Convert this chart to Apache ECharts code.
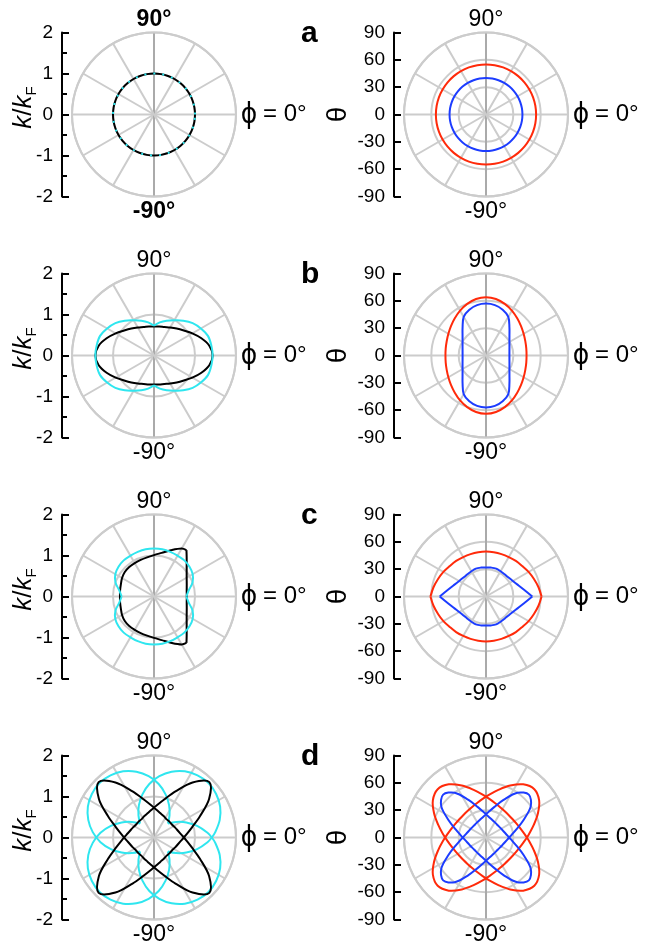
<!DOCTYPE html>
<html>
<head>
<meta charset="utf-8">
<script src="https://cdn.jsdelivr.net/npm/echarts@6/dist/echarts.min.js"></script>
<style>
  html, body { margin: 0; padding: 0; background: #fff; }
  #chart { width: 645px; height: 949px; }
</style>
</head>
<body>
<div id="chart"></div>
<script>
// angle grids (degrees, counter-clockwise from phi = 0)
const PHI = [0,10,20,30,40,50,60,70,80,90,100,110,120,130,140,150,160,170,180,190,200,210,220,230,240,250,260,270,280,290,300,310,320,330,340,350,360];
const PHI_C = [0,10,20,30,40,50,55,60,70,80,90,100,110,120,130,140,150,160,170,180,190,200,210,220,230,240,250,260,270,280,290,300,305,310,320,330,340,350,360];
const PHI_D = [0,5,15,25,35,45,55,65,75,85,95,105,115,125,135,145,155,165,175,185,195,205,215,225,235,245,255,265,275,285,295,305,315,325,335,345,355,360];

// row a : k/kF (left) and theta in degrees (right)
const A_BLACK = [1,1,1,1,1,1,1,1,1,1,1,1,1,1,1,1,1,1,1,1,1,1,1,1,1,1,1,1,1,1,1,1,1,1,1,1,1];
const A_CYAN  = [1,1,1,1,1,1,1,1,1,1,1,1,1,1,1,1,1,1,1,1,1,1,1,1,1,1,1,1,1,1,1,1,1,1,1,1,1];
const A_RED   = [55,55,55,55,55,55,55,55,55,55,55,55,55,55,55,55,55,55,55,55,55,55,55,55,55,55,55,55,55,55,55,55,55,55,55,55,55];
const A_BLUE  = [40,40,40,40,40,40,40,40,40,40,40,40,40,40,40,40,40,40,40,40,40,40,40,40,40,40,40,40,40,40,40,40,40,40,40,40,40];

// row b
const B_BLACK = [1.43,1.37,1.23,1.08,0.95,0.86,0.79,0.74,0.72,0.71,0.72,0.74,0.79,0.86,0.95,1.08,1.23,1.37,1.43,1.37,1.23,1.08,0.95,0.86,0.79,0.74,0.72,0.71,0.72,0.74,0.79,0.86,0.95,1.08,1.23,1.37,1.43];
const B_CYAN  = [1.43,1.42,1.40,1.32,1.23,1.11,0.99,0.90,0.82,0.73,0.82,0.90,0.99,1.11,1.23,1.32,1.40,1.42,1.43,1.42,1.40,1.32,1.23,1.11,0.99,0.90,0.82,0.73,0.82,0.90,0.99,1.11,1.23,1.32,1.40,1.42,1.43];
const B_RED   = [44.5,44.9,45.9,47.7,50.2,53.3,56.9,60.3,63.0,64.0,63.0,60.3,56.9,53.3,50.2,47.7,45.9,44.9,44.5,44.9,45.9,47.7,50.2,53.3,56.9,60.3,63.0,64.0,63.0,60.3,56.9,53.3,50.2,47.7,45.9,44.9,44.5];
const B_BLUE  = [25.7,26.1,27.4,29.7,33.6,40.0,49.0,53.5,56.2,57.0,56.2,53.5,49.0,40.0,33.6,29.7,27.4,26.1,25.7,26.1,27.4,29.7,33.6,40.0,49.0,53.5,56.2,57.0,56.2,53.5,49.0,40.0,33.6,29.7,27.4,26.1,25.7];

// row c
const C_BLACK = [0.80,0.81,0.85,0.92,1.04,1.24,1.38,1.35,1.20,1.08,1.01,0.97,0.95,0.94,0.94,0.93,0.90,0.86,0.84,0.83,0.84,0.86,0.90,0.93,0.94,0.94,0.95,0.97,1.01,1.08,1.20,1.35,1.38,1.24,1.04,0.92,0.85,0.81,0.80];
const C_CYAN  = [0.79,0.86,1.00,1.09,1.13,1.15,1.15,1.16,1.17,1.17,1.17,1.16,1.15,1.15,1.13,1.09,1.00,0.86,0.79,0.86,1.00,1.09,1.13,1.15,1.15,1.16,1.17,1.17,1.17,1.16,1.15,1.15,1.13,1.09,1.00,0.86,0.79];
const C_RED   = [61.0,58.5,56.0,54.0,52.0,51.0,50.0,49.5,49.3,49.3,49.3,49.5,50.0,51.0,52.0,54.0,56.0,58.5,61.0,58.5,56.0,54.0,52.0,51.0,50.0,49.5,49.3,49.3,49.3,49.5,50.0,51.0,52.0,54.0,56.0,58.5,61.0];
const C_BLUE  = [50.8,42.4,37.2,34.0,32.3,31.8,32.0,32.6,32.2,31.9,32.2,32.6,32.0,31.8,32.3,34.0,37.2,42.4,50.8,42.4,37.2,34.0,32.3,31.8,32.0,32.6,32.2,31.9,32.2,32.6,32.0,31.8,32.3,34.0,37.2,42.4,50.8];

// row d (two branches per colour)
const D_BLACK1 = [0.73,0.79,0.96,1.24,1.64,1.91,1.64,1.24,0.96,0.79,0.68,0.61,0.57,0.54,0.54,0.54,0.57,0.61,0.68,0.79,0.96,1.24,1.64,1.91,1.64,1.24,0.96,0.79,0.68,0.61,0.57,0.54,0.54,0.54,0.57,0.61,0.68,0.73];
const D_BLACK2 = [0.73,0.68,0.61,0.57,0.54,0.54,0.54,0.57,0.61,0.68,0.79,0.96,1.24,1.64,1.91,1.64,1.24,0.96,0.79,0.68,0.61,0.57,0.54,0.54,0.54,0.57,0.61,0.68,0.79,0.96,1.24,1.64,1.91,1.64,1.24,0.96,0.79,0.73];
const D_CYAN1  = [1.41,1.50,1.66,1.78,1.85,1.88,1.85,1.78,1.66,1.50,1.31,1.09,0.87,0.66,0.48,0.66,0.87,1.09,1.31,1.50,1.66,1.78,1.85,1.88,1.85,1.78,1.66,1.50,1.31,1.09,0.87,0.66,0.48,0.66,0.87,1.09,1.31,1.41];
const D_CYAN2  = [1.41,1.31,1.09,0.87,0.66,0.48,0.66,0.87,1.09,1.31,1.50,1.66,1.78,1.85,1.88,1.85,1.78,1.66,1.50,1.31,1.09,0.87,0.66,0.48,0.66,0.87,1.09,1.31,1.50,1.66,1.78,1.85,1.88,1.85,1.78,1.66,1.50,1.41];
const D_RED1   = [44.9,47.6,54.4,62.9,71.2,75.0,71.2,62.9,54.4,47.6,42.5,39.0,36.7,35.4,35.0,35.4,36.7,39.0,42.5,47.6,54.4,62.9,71.2,75.0,71.2,62.9,54.4,47.6,42.5,39.0,36.7,35.4,35.0,35.4,36.7,39.0,42.5,44.9];
const D_RED2   = [44.9,42.5,39.0,36.7,35.4,35.0,35.4,36.7,39.0,42.5,47.6,54.4,62.9,71.2,75.0,71.2,62.9,54.4,47.6,42.5,39.0,36.7,35.4,35.0,35.4,36.7,39.0,42.5,47.6,54.4,62.9,71.2,75.0,71.2,62.9,54.4,47.6,44.9];
const D_BLUE1  = [25.4,27.8,34.5,45.5,60.0,66.5,60.0,45.5,34.5,27.8,23.7,21.2,19.7,18.9,18.6,18.9,19.7,21.2,23.7,27.8,34.5,45.5,60.0,66.5,60.0,45.5,34.5,27.8,23.7,21.2,19.7,18.9,18.6,18.9,19.7,21.2,23.7,25.4];
const D_BLUE2  = [25.4,23.7,21.2,19.7,18.9,18.6,18.9,19.7,21.2,23.7,27.8,34.5,45.5,60.0,66.5,60.0,45.5,34.5,27.8,23.7,21.2,19.7,18.9,18.6,18.9,19.7,21.2,23.7,27.8,34.5,45.5,60.0,66.5,60.0,45.5,34.5,27.8,25.4];

const PANEL_LETTERS = ["a", "b", "c", "d"];

const BLACK = "#000000";
const CYAN = "#2fe6ef";
const RED = "#ff2a0a";
const BLUE = "#1c3cff";
const GRID_GRAY = "#cccccc";
const SPOKE_DARK = "#aaaaaa";

// layout
const CX = [154, 486];
const CY = [114.5, 355.5, 596.5, 837.5];
const R = 82;
const AXIS_X = [62, 394];
const SMOOTH = 0.33;

// curves per panel (panel index = row * 2 + col)
const curves = [
  { p: 0, phi: PHI, r: A_BLACK, color: BLACK, corners: [] },
  { p: 0, phi: PHI, r: A_CYAN, color: CYAN, corners: [], dash: [2, 7] },
  { p: 1, phi: PHI, r: A_RED, color: RED, corners: [] },
  { p: 1, phi: PHI, r: A_BLUE, color: BLUE, corners: [] },
  { p: 2, phi: PHI, r: B_BLACK, color: BLACK, corners: [] },
  { p: 2, phi: PHI, r: B_CYAN, color: CYAN, corners: [90, 270] },
  { p: 3, phi: PHI, r: B_RED, color: RED, corners: [] },
  { p: 3, phi: PHI, r: B_BLUE, color: BLUE, corners: [] },
  { p: 4, phi: PHI_C, r: C_BLACK, color: BLACK, corners: [55, 305] },
  { p: 4, phi: PHI, r: C_CYAN, color: CYAN, corners: [0, 180] },
  { p: 5, phi: PHI, r: C_RED, color: RED, corners: [0, 180] },
  { p: 5, phi: PHI, r: C_BLUE, color: BLUE, corners: [0, 180] },
  { p: 6, phi: PHI_D, r: D_CYAN1, color: CYAN, corners: [135, 315] },
  { p: 6, phi: PHI_D, r: D_CYAN2, color: CYAN, corners: [45, 225] },
  { p: 6, phi: PHI_D, r: D_BLACK1, color: BLACK, corners: [] },
  { p: 6, phi: PHI_D, r: D_BLACK2, color: BLACK, corners: [] },
  { p: 7, phi: PHI_D, r: D_RED1, color: RED, corners: [] },
  { p: 7, phi: PHI_D, r: D_RED2, color: RED, corners: [] },
  { p: 7, phi: PHI_D, r: D_BLUE1, color: BLUE, corners: [] },
  { p: 7, phi: PHI_D, r: D_BLUE2, color: BLUE, corners: [] },
];

// closed curve -> one loop, or open pieces broken at the corner angles
function buildSegments(phi, r, corners) {
  const n = phi.length - 1; // last point repeats the first
  if (!corners.length) {
    const pts = [];
    for (let i = 0; i < n; i++) pts.push([r[i], phi[i]]);
    return [{ closed: true, pts }];
  }
  const start = phi.indexOf(corners[0]);
  const seq = [];
  for (let k = 0; k <= n; k++) {
    const i = (start + k) % n;
    seq.push([r[i], phi[i]]);
  }
  const segs = [];
  let cur = [seq[0]];
  for (let k = 1; k < seq.length; k++) {
    cur.push(seq[k]);
    if (k < seq.length - 1 && corners.indexOf(seq[k][1]) >= 0) {
      segs.push({ closed: false, pts: cur });
      cur = [seq[k]];
    }
  }
  segs.push({ closed: false, pts: cur });
  return segs;
}

const polar = [], angleAxis = [], radiusAxis = [];
const grid = [], xAxis = [], yAxis = [];
const graphic = [];
const FONT = "'Liberation Sans', Arial, sans-serif";

for (let row = 0; row < 4; row++) {
  for (let col = 0; col < 2; col++) {
    const i = row * 2 + col;
    const cx = CX[col], cy = CY[row];
    polar.push({ center: [cx, cy], radius: R });
    angleAxis.push({
      polarIndex: i, type: "value", min: 0, max: 360, interval: 30,
      startAngle: 0, clockwise: false,
      axisLine: { show: true, lineStyle: { color: GRID_GRAY, width: 2 } },
      axisTick: { show: false }, axisLabel: { show: false },
      splitLine: { show: true, lineStyle: { color: [GRID_GRAY, GRID_GRAY, GRID_GRAY, SPOKE_DARK, GRID_GRAY, GRID_GRAY], width: 2 } },
    });
    radiusAxis.push({
      polarIndex: i, type: "value", min: 0,
      max: col === 0 ? 2 : 90, interval: col === 0 ? 1 : 30,
      axisLine: { show: false }, axisTick: { show: false }, axisLabel: { show: false },
      splitLine: { show: true, lineStyle: { color: GRID_GRAY, width: 2 } },
    });
    grid.push({ left: AXIS_X[col], top: cy - R, width: 20, height: 2 * R });
    xAxis.push({ gridIndex: i, type: "value", show: false, min: 0, max: 1 });
    yAxis.push({
      gridIndex: i, type: "value",
      min: col === 0 ? -2 : -90, max: col === 0 ? 2 : 90, interval: col === 0 ? 1 : 30,
      axisLine: { show: true, onZero: false, lineStyle: { color: "#000", width: 2 } },
      axisTick: { show: true, inside: true, length: 7, lineStyle: { color: "#000", width: 2 } },
      minorTick: { show: col === 0, splitNumber: 2, length: 5, lineStyle: { color: "#000", width: 2 } },
      splitLine: { show: false },
      axisLabel: { color: "#000", fontSize: 19, fontFamily: "Liberation Sans", margin: 9 },
    });

    const bold = i === 0 ? "bold" : "normal";
    graphic.push({
      type: "text", x: cx, y: cy - R - 13,
      style: { text: "90°", fill: "#000", font: bold + " 23px " + FONT, textAlign: "center", textVerticalAlign: "middle" },
    });
    graphic.push({
      type: "text", x: cx, y: cy + R + 15,
      style: { text: "-90°", fill: "#000", font: bold + " 23px " + FONT, textAlign: "center", textVerticalAlign: "middle" },
    });
    // phi = 0 marker at the right of each polar plot
    graphic.push({
      type: "text", x: cx + R + 13, y: cy + 1, scaleY: 1.15,
      style: { text: "ϕ", fill: "#000", font: "25px 'DejaVu Sans'", textAlign: "center", textVerticalAlign: "middle" },
    });
    graphic.push({
      type: "text", x: cx + R + 27, y: cy,
      style: { text: "= 0°", fill: "#000", font: "24px " + FONT, textAlign: "left", textVerticalAlign: "middle" },
    });
  }
  graphic.push({
    type: "text", x: 301, y: CY[row] - 66,
    style: { text: PANEL_LETTERS[row], fill: "#000", font: "bold 30px " + FONT, textAlign: "left", textVerticalAlign: "bottom" },
  });
  graphic.push({
    type: "text", x: 24, y: CY[row] - 7, rotation: Math.PI / 2,
    style: {
      text: "{i|k}/{i|k}{s|F}", fill: "#000", font: "26px " + FONT,
      textAlign: "center", textVerticalAlign: "middle",
      rich: {
        i: { fontStyle: "italic", fontSize: 26, lineHeight: 30, fontFamily: "Liberation Sans", fill: "#000" },
        s: { fontSize: 15, verticalAlign: "bottom", fontFamily: "Liberation Sans", fill: "#000" },
      },
    },
  });
  graphic.push({
    type: "text", x: 338, y: CY[row], rotation: Math.PI / 2,
    style: { text: "θ", fill: "#000", font: "28px " + FONT, textAlign: "center", textVerticalAlign: "middle" },
  });
}

// each curve piece is drawn by a custom series through the polar coordinate system
const series = [];
curves.forEach((c) => {
  buildSegments(c.phi, c.r, c.corners).forEach((seg) => {
    series.push({
      type: "custom", coordinateSystem: "polar", polarIndex: c.p,
      data: seg.pts, silent: true,
      renderItem: (params, api) => {
        if (params.dataIndex !== 0) return null;
        const points = seg.pts.map((p) => api.coord(p));
        return {
          type: seg.closed ? "polygon" : "polyline",
          shape: { points, smooth: SMOOTH },
          style: { fill: "none", stroke: c.color, lineWidth: 2, lineDash: c.dash || null },
        };
      },
    });
  });
});

const chart = echarts.init(document.getElementById("chart"));
chart.setOption({
  animation: false,
  backgroundColor: "#fff",
  polar, angleAxis, radiusAxis,
  grid, xAxis, yAxis,
  graphic,
  series,
});
</script>
</body>
</html>
